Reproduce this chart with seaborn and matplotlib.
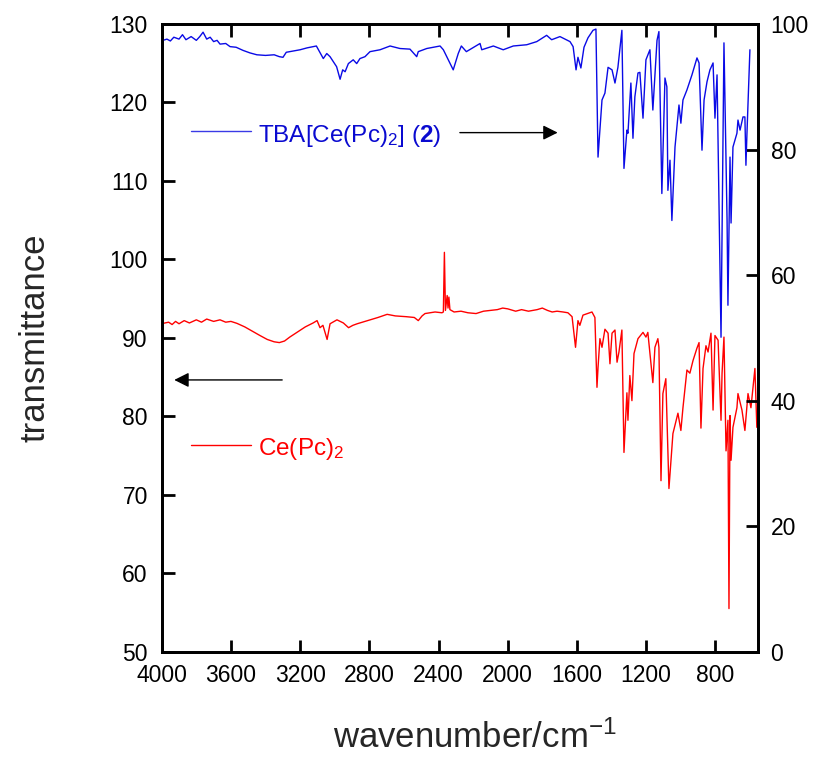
import numpy as np
import pandas as pd
import matplotlib
matplotlib.use("Agg")
import matplotlib.pyplot as plt
import seaborn as sns
from matplotlib.lines import Line2D

# ---------------- data ----------------
# Ce(Pc)2  (left axis, transmittance)
red_wn = [3992, 3960, 3940, 3920, 3900, 3870, 3840, 3800, 3770, 3740, 3700, 3663,
          3630, 3600, 3565, 3520, 3480, 3432, 3390, 3350, 3320, 3290, 3260, 3218,
          3170, 3125, 3102, 3085, 3068, 3044, 3027, 2987, 2950, 2920, 2895, 2870,
          2840, 2794, 2750, 2697, 2650, 2586, 2540, 2517, 2495, 2478, 2420, 2380,
          2372, 2366, 2360, 2350, 2345, 2340, 2334, 2326, 2310, 2270, 2230, 2183,
          2140, 2100, 2060, 2029, 2000, 1954, 1920, 1880, 1830, 1800, 1770, 1743,
          1715, 1680, 1652, 1628, 1608, 1594, 1583, 1565, 1513, 1496, 1484, 1478,
          1467, 1455, 1438, 1420, 1409, 1397, 1380, 1368, 1357, 1340, 1328, 1311,
          1305, 1294, 1282, 1270, 1247, 1218, 1201, 1190, 1161, 1149, 1132, 1126,
          1114, 1103, 1086, 1068, 1045, 1016, 999, 987, 964, 947, 929, 906, 894,
          883, 871, 854, 842, 825, 813, 802, 784, 767, 761, 750, 738, 727, 721,
          715, 709, 698, 675, 669, 646, 629, 611, 594, 582, 571, 560]
red_t = [91.85, 92.0, 91.7, 92.1, 91.8, 92.2, 91.9, 92.3, 92.0, 92.4, 92.1, 92.3,
         92.0, 92.1, 91.85, 91.4, 90.9, 90.3, 89.8, 89.5, 89.4, 89.6, 90.1, 90.7,
         91.4, 91.9, 92.2, 91.3, 91.6, 89.8, 91.8, 92.3, 91.9, 91.3, 91.6, 91.8,
         92.0, 92.3, 92.6, 93.0, 92.8, 92.7, 92.6, 92.2, 92.8, 93.1, 93.3, 93.2,
         93.3, 100.9, 93.5, 95.4, 93.8, 95.2, 93.6, 93.5, 93.3, 93.4, 93.2, 93.1,
         93.4, 93.5, 93.6, 93.8, 93.7, 93.4, 93.6, 93.4, 93.6, 93.8, 93.5, 93.3,
         93.4, 93.3, 93.2, 92.7, 88.8, 92.2, 91.6, 92.9, 93.3, 92.6, 83.7, 86.2,
         89.9, 88.8, 91.1, 90.6, 86.7, 90.6, 91.0, 86.9, 88.2, 91.0, 75.4, 83.0,
         79.5, 85.2, 82.0, 88.0, 89.9, 90.7, 90.1, 90.7, 84.3, 88.8, 89.9, 88.8,
         71.8, 82.9, 84.8, 70.8, 77.8, 80.4, 78.2, 81.1, 85.9, 85.5, 87.1, 88.7, 89.4,
         78.5, 86.1, 89.0, 88.2, 90.6, 80.8, 90.3, 89.7, 79.5, 85.5, 90.1, 75.6, 79.5, 55.5,
         80.1, 74.4, 78.6, 81.1, 82.9, 80.8, 78.2, 82.9, 81.1, 83.7, 86.1, 78.6]

# TBA[Ce(Pc)2] (2)  (right axis, transmittance)
blue_wn = [3992, 3970, 3950, 3930, 3900, 3880, 3860, 3830, 3800, 3780, 3761, 3740,
           3720, 3700, 3680, 3663, 3630, 3605, 3570, 3530, 3490, 3450, 3400, 3350,
           3320, 3299, 3280, 3240, 3200, 3160, 3106, 3066, 3046, 3027, 3008, 2989,
           2969, 2954, 2940, 2921, 2893, 2873, 2854, 2825, 2796, 2738, 2680, 2623,
           2565, 2526, 2517, 2468, 2391, 2372, 2315, 2286, 2268, 2239, 2160, 2150,
           2083, 2026, 1968, 1890, 1832, 1775, 1746, 1698, 1640, 1622, 1605, 1594,
           1577, 1559, 1536, 1507, 1490, 1478, 1455, 1438, 1420, 1397, 1380, 1363,
           1340, 1328, 1311, 1305, 1288, 1276, 1265, 1247, 1236, 1218, 1201, 1178,
           1161, 1137, 1126, 1109, 1091, 1080, 1074, 1062, 1051, 1033, 1022, 1010,
           999, 987, 964, 935, 906, 894, 877, 865, 848, 831, 813, 802, 790, 767,
           750, 732, 727, 715, 709, 698, 675, 669, 657, 640, 629, 623, 617, 600]
blue_t = [97.4, 97.6, 97.3, 97.9, 97.6, 98.3, 97.5, 98.0, 97.4, 98.0, 98.7, 97.6,
          97.9, 97.2, 97.4, 96.8, 96.9, 96.4, 96.3, 95.8, 95.4, 95.1, 95.0, 95.1,
          94.8, 94.7, 95.5, 95.7, 95.9, 96.2, 96.5, 94.5, 95.3, 94.8, 94.0, 93.2,
          91.2, 92.7, 92.4, 93.7, 94.3, 93.7, 94.5, 94.8, 95.6, 95.9, 96.5, 96.1,
          96.0, 94.8, 95.6, 96.1, 96.5, 95.9, 92.7, 95.3, 96.5, 95.6, 96.9, 95.9,
          96.5, 95.9, 96.5, 96.7, 97.2, 98.2, 97.5, 98.0, 97.2, 96.4, 92.7, 94.7,
          93.0, 96.3, 97.8, 99.0, 99.2, 78.8, 87.9, 89.0, 93.1, 92.7, 90.6, 93.1,
          99.0, 77.0, 83.1, 82.6, 90.6, 81.8, 88.4, 92.2, 92.3, 85.0, 94.3, 95.9,
          86.3, 97.4, 98.8, 73.0, 91.4, 90.0, 73.5, 78.3, 68.7, 80.4, 83.6, 87.1,
          84.2, 87.9, 89.5, 91.9, 94.6, 93.8, 79.9, 87.9, 90.8, 92.7, 93.8, 85.0, 91.9, 50.1,
          97.0, 68.7, 55.2, 78.8, 68.3, 80.4, 82.6, 84.7, 83.1, 85.2, 85.2, 77.5, 82.6, 95.9]

x_ticks = [4000, 3600, 3200, 2800, 2400, 2000, 1600, 1200, 800]
left_ticks = [50, 60, 70, 80, 90, 100, 110, 120, 130]
right_ticks = [0, 20, 40, 60, 80, 100]

red_label = r"Ce(Pc)$_2$"
blue_label = r"TBA[Ce(Pc)$_2$] ($\mathbf{2}$)"

# ---------------- style ----------------
sns.set_style("ticks")
plt.rcParams["font.family"] = ["Liberation Sans", "DejaVu Sans"]
plt.rcParams["mathtext.fontset"] = "custom"
plt.rcParams["mathtext.rm"] = "Liberation Sans"
plt.rcParams["mathtext.it"] = "Liberation Sans:italic"
plt.rcParams["mathtext.bf"] = "Liberation Sans:bold"
plt.rcParams["mathtext.default"] = "rm"

fig = plt.figure(figsize=(8.18, 7.58), dpi=100)
fig.subplots_adjust(left=0.1977, right=0.9267, top=0.9683, bottom=0.1402)
ax = fig.add_subplot(111)
ax2 = ax.twinx()

red_df = pd.DataFrame({"wn": red_wn, "t": red_t})
blue_df = pd.DataFrame({"wn": blue_wn, "t": blue_t})

sns.lineplot(data=red_df, x="wn", y="t", ax=ax, color="#ff0000", linewidth=1.0,
             estimator=None, sort=False)
sns.lineplot(data=blue_df, x="wn", y="t", ax=ax2, color="#0a0ae6", linewidth=1.0,
             estimator=None, sort=False)

ax.set_xlim(4000, 553)
ax.set_ylim(50, 130)
ax2.set_ylim(0, 100)
ax.set_xticks(x_ticks)
ax.set_yticks(left_ticks)
ax2.set_yticks(right_ticks)

tick_kw = dict(direction="in", length=9, width=2, labelsize=16.5, colors="black")
ax.tick_params(axis="x", top=True, bottom=True, pad=9, **tick_kw)
ax.tick_params(axis="y", left=True, right=False, pad=10, **tick_kw)
ax2.tick_params(axis="y", right=True, left=False, pad=9, **tick_kw)

for a in (ax, ax2):
    for s in a.spines.values():
        s.set_linewidth(2)
        s.set_color("black")

ax.set_xlabel(r"wavenumber/cm$^{-1}$", fontsize=25)
ax.set_ylabel("transmittance", fontsize=25)
ax2.set_ylabel("")
ax.xaxis.set_label_coords(0.525, -0.11)
ax.yaxis.set_label_coords(-0.185, 0.501)

# legend-like labels
ax.add_line(Line2D([0.049, 0.149], [0.829, 0.829], transform=ax.transAxes,
                   color="#3a3ae6", linewidth=1.0))
ax.text(0.161, 0.812, blue_label, transform=ax.transAxes, color="#0a0ad0",
        fontsize=17.5, ha="left", va="baseline")
ax.add_line(Line2D([0.049, 0.149], [0.329, 0.329], transform=ax.transAxes,
                   color="#ff0000", linewidth=1.0))
ax.text(0.161, 0.313, red_label, transform=ax.transAxes, color="#ff0000",
        fontsize=17.5, ha="left", va="baseline")

# arrows
ax.annotate("", xy=(0.664, 0.827), xytext=(0.500, 0.827), xycoords="axes fraction",
            arrowprops=dict(arrowstyle="-|>", color="black", lw=1.0, mutation_scale=22,
                            shrinkA=0, shrinkB=0))
ax.annotate("", xy=(0.021, 0.433), xytext=(0.202, 0.433), xycoords="axes fraction",
            arrowprops=dict(arrowstyle="-|>", color="black", lw=1.0, mutation_scale=22,
                            shrinkA=0, shrinkB=0))

fig.savefig("out.png", dpi=100)
